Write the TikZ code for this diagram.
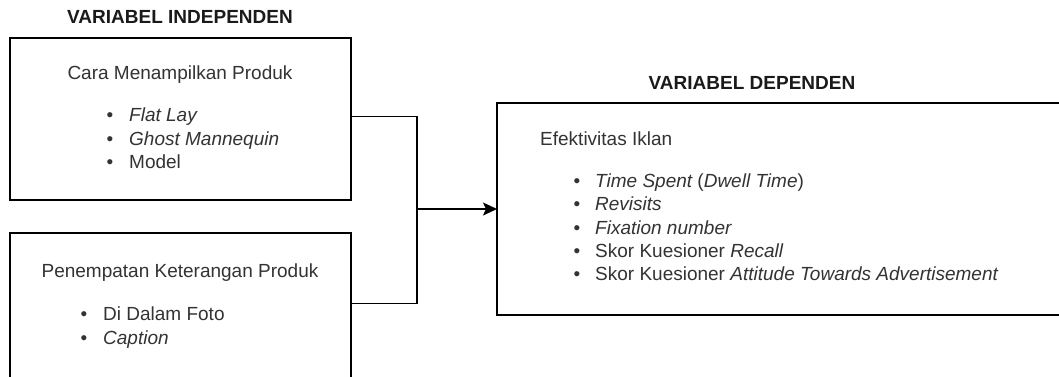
\documentclass[tikz,border=0pt]{standalone}
\usepackage{fontspec}
\setmainfont{Liberation Sans}
\usetikzlibrary{arrows.meta}
\definecolor{txtc}{HTML}{333333}
\definecolor{ttlc}{HTML}{1A1A1A}
\begin{document}
\begin{tikzpicture}[x=1pt,y=-1pt,
  box/.style={draw=black, line width=1.5pt, inner sep=0pt, outer sep=0pt, anchor=north west},
  conn/.style={draw=black, line width=1.5pt},
  ttl/.style={font=\bfseries\fontsize{19}{22}\selectfont, text=ttlc, inner sep=0pt, anchor=mid},
  txt/.style={font=\fontsize{19}{23}\selectfont, text=txtc, inner sep=0pt, anchor=mid west},
  ctxt/.style={txt, anchor=mid},
  bul/.style={txt, anchor=mid}
]
\useasboundingbox (0,0) rectangle (1059,376);
\clip (0,0) rectangle (1059,376);
\fill[white] (0,0) rectangle (1059,376);

% boxes
\node[box, minimum width=341pt, minimum height=162pt] (box1) at (10,38) {};
\node[box, minimum width=341pt, minimum height=147pt] (box2) at (10,233) {};
\node[box, minimum width=580pt, minimum height=212pt] (box3) at (497,103) {};

% titles
\node[ttl] (t1) at (180,21) {VARIABEL INDEPENDEN};
\node[ttl] (t2) at (752,87) {VARIABEL DEPENDEN};

% box 1 content
\node[ctxt] (h1) at (180,77) {Cara Menampilkan Produk};
\node[bul] (b11) at (110,119) {•};
\node[txt] (i11) at (129,119) {\itshape Flat Lay};
\node[bul] (b12) at (110,143) {•};
\node[txt] (i12) at (129,143) {\itshape Ghost Mannequin};
\node[bul] (b13) at (110,166) {•};
\node[txt] (i13) at (129,166) {Model};

% box 2 content
\node[ctxt] (h2) at (180,275) {Penempatan Keterangan Produk};
\node[bul] (b21) at (84,318) {•};
\node[txt] (i21) at (103,318) {Di Dalam Foto};
\node[bul] (b22) at (84,342) {•};
\node[txt] (i22) at (103,342) {\itshape Caption};

% box 3 content
\node[txt] (h3) at (540,143) {Efektivitas Iklan};
\node[bul] (b31) at (577,185) {•};
\node[txt] (i31) at (595,185) {\itshape Time Spent \upshape(\itshape Dwell Time\upshape)};
\node[bul] (b32) at (577,208) {•};
\node[txt] (i32) at (595,208) {\itshape Revisits};
\node[bul] (b33) at (577,232) {•};
\node[txt] (i33) at (595,232) {\itshape Fixation number};
\node[bul] (b34) at (577,255) {•};
\node[txt] (i34) at (595,255) {Skor Kuesioner \itshape Recall};
\node[bul] (b35) at (577,278) {•};
\node[txt] (i35) at (595,278) {Skor Kuesioner \itshape Attitude Towards Advertisement};

% connectors
\coordinate (j) at (417,209);
\draw[conn] ([yshift=2.3pt]box1.east) -| (j);
\draw[conn] ([yshift=3.2pt]box2.east) -| (j);
\draw[conn, -{Stealth[length=14pt,width=13pt,inset=3pt]}] (j) -- (box3.west);
\end{tikzpicture}
\end{document}
